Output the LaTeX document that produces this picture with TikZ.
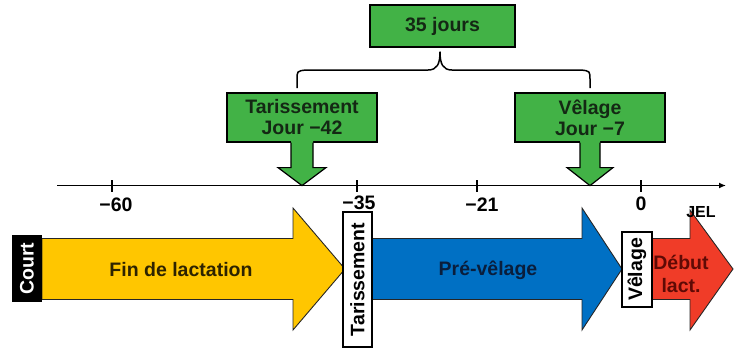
\documentclass[tikz,border=0pt]{standalone}
\usepackage{fontspec}
\setmainfont{Liberation Sans}
\usetikzlibrary{arrows.meta,calc}
\definecolor{gboxc}{RGB}{66,178,70}
\definecolor{yelc}{RGB}{255,198,0}
\definecolor{bluec}{RGB}{0,112,196}
\definecolor{redc}{RGB}{240,60,40}
\definecolor{gtext}{RGB}{20,40,20}
\definecolor{ytext}{RGB}{45,35,0}
\definecolor{btext}{RGB}{10,30,60}
\definecolor{rtext}{RGB}{95,10,5}
\begin{document}
\begin{tikzpicture}[x=1bp,y=-1bp,
  font=\fontsize{19.5bp}{22bp}\selectfont\bfseries,
  gbox/.style={draw=black, line width=1.2bp, fill=gboxc, text=gtext, inner sep=0pt, align=center},
  vbox/.style={draw=black, line width=1.2bp, fill=white, rotate=90, inner sep=0pt},
  bigarrow/.style={draw=black!85, line width=0.9bp, line join=miter},
  tickmark/.style={line width=1.2bp},
  ticklabel/.style={inner sep=0pt}
]
\useasboundingbox (0,0) rectangle (735,350);

% ---- top green boxes
\node[gbox, minimum width=145bp, minimum height=42bp] (days) at (442.5,26) {35 jours};
\node[gbox, minimum width=150bp, minimum height=49bp] (tar) at (302,117.5) {Tarissement\\[-1bp]Jour −42};
\node[gbox, minimum width=150bp, minimum height=49bp] (vel) at (590,117.5) {Vêlage\\[-1bp]Jour −7};

% ---- brace
\coordinate (bl) at (297,88);
\coordinate (br) at (590,88);
\coordinate (btip) at (440,52);
\draw[line width=1.5bp, line join=round] (bl) -- (297,80) .. controls (297,71) .. (306,70) -- (428,70)
  .. controls (437,70) and (440,64) .. (btip)
  .. controls (440,64) and (443,70) .. (452,70) -- (581,70) .. controls (590,71) .. (590,80) -- (br);

% ---- green down arrows
\foreach \b/\sh/\hd in {tar/11/24, vel/10/23}{
  \fill[gboxc] ($(\b.south)+(-\sh,-2)$) -- ($(\b.south)+(-\sh,25)$) -- ($(\b.south)+(-\hd,25)$) -- ($(\b.south)+(0,43)$)
     -- ($(\b.south)+(\hd,25)$) -- ($(\b.south)+(\sh,25)$) -- ($(\b.south)+(\sh,-2)$) -- cycle;
  \draw[line width=1.2bp, line join=miter] ($(\b.south)+(-\sh,0)$) -- ($(\b.south)+(-\sh,25)$) -- ($(\b.south)+(-\hd,25)$) -- ($(\b.south)+(0,43)$)
     -- ($(\b.south)+(\hd,25)$) -- ($(\b.south)+(\sh,25)$) -- ($(\b.south)+(\sh,0)$);
}

% ---- axis
\coordinate (ax0) at (57,185.5);
\coordinate (ax1) at (726,185.5);
\draw[line width=1.5bp, -{Latex[length=7bp,width=6bp]}] (ax0) -- (ax1);
\foreach \x/\lab/\lx/\ly in {112/−60/116/205, 357/−35/359/203, 477/−21/482/205, 641/0/641/204}{
  \draw[tickmark] (\x,180) -- (\x,192);
  \node[ticklabel] at (\lx,\ly) {\lab};
}

% ---- big arrows
\draw[bigarrow, fill=yelc] (42,238.5) -- (293,238.5) -- (293,208) -- (345,269) -- (293,330) -- (293,299.5) -- (42,299.5) -- cycle;
\draw[bigarrow, fill=bluec] (365,238.5) -- (582,238.5) -- (582,208) -- (622,269) -- (582,330) -- (582,299.5) -- (365,299.5) -- cycle;
\draw[bigarrow, fill=redc] (645,238.5) -- (690,238.5) -- (690,210) -- (733,269) -- (690,330) -- (690,299.5) -- (645,299.5) -- cycle;

\node[text=ytext] (fin) at (181,270) {Fin de lactation};
\node[text=btext] (pre) at (488,270) {Pré-vêlage};
\node[text=rtext, align=center, inner sep=0pt] (deb) at (681,274) {Début\\[1bp]lact.};

% ---- vertical labelled boxes
\node[fill=black, text=white, rotate=90, inner sep=0pt, minimum width=67bp, minimum height=30bp] (court) at (27,268.5) {Court};
\node[vbox, minimum width=135bp, minimum height=29bp] (tarb) at (357.5,279.5) {Tarissement};
\node[vbox, minimum width=75bp, minimum height=30bp] (velb) at (637,269.5) {Vêlage};

\node[inner sep=0pt, font=\fontsize{16bp}{18bp}\selectfont\bfseries] (jel) at (701,212) {JEL};
\end{tikzpicture}
\end{document}
